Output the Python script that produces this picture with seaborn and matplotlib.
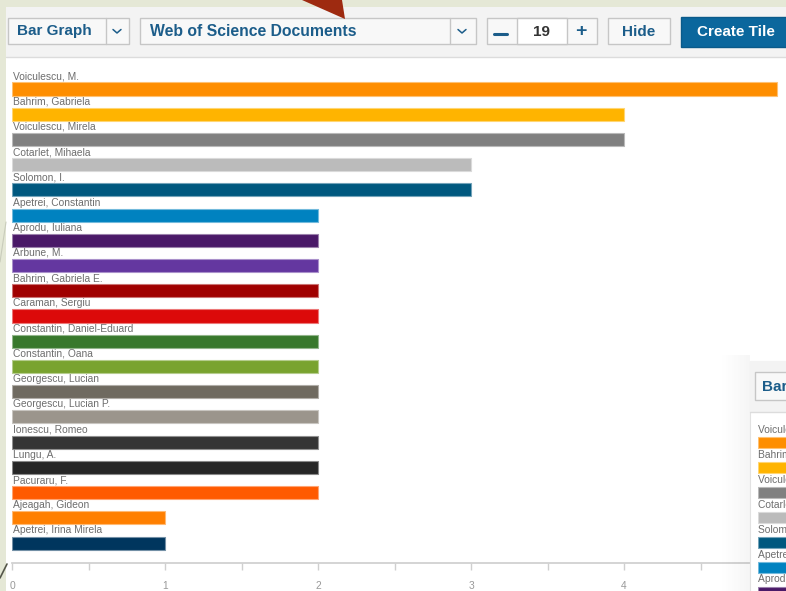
import matplotlib
matplotlib.use("Agg")
import matplotlib.pyplot as plt
import matplotlib.colors as mcolors
from matplotlib.patches import Rectangle, Polygon
import seaborn as sns
import pandas as pd

# data
authors = [
    "Voiculescu, M.", "Bahrim, Gabriela", "Voiculescu, Mirela", "Cotarlet, Mihaela",
    "Solomon, I.", "Apetrei, Constantin", "Aprodu, Iuliana", "Arbune, M.",
    "Bahrim, Gabriela E.", "Caraman, Sergiu", "Constantin, Daniel-Eduard",
    "Constantin, Oana", "Georgescu, Lucian", "Georgescu, Lucian P.", "Ionescu, Romeo",
    "Lungu, A.", "Pacuraru, F.", "Ajeagah, Gideon", "Apetrei, Irina Mirela",
]
documents = [5, 4, 4, 3, 3, 2, 2, 2, 2, 2, 2, 2, 2, 2, 2, 2, 2, 1, 1]
bar_colors = [
    "#fe8e00", "#ffb400", "#808080", "#bbbbbb", "#00587f", "#0082c0", "#4a1968",
    "#6437a0", "#a00000", "#dc0a0a", "#38782c", "#79a32f", "#6f6a60", "#9b958c",
    "#353535", "#262626", "#ff5a00", "#ff7f00", "#00365e",
]
x_ticks = [0, 1, 2, 3, 4, 5]
x_tick_labels = ["0", "1", "2", "3", "4", ""]  # the "5" sits under the thumbnail panel
n_shown = 19

df = pd.DataFrame({"author": authors, "documents": documents})

sns.set_theme(style="white")
plt.rcParams["font.family"] = ["Liberation Sans", "DejaVu Sans"]

W, H = 786, 591
fig = plt.figure(figsize=(W / 100, H / 100), dpi=100)
fig.patch.set_facecolor("#e5e8d6")


def box(px0, py0, px1, py1):
    """pixel box -> figure fraction rect"""
    return [px0 / W, 1 - py1 / H, (px1 - px0) / W, (py1 - py0) / H]


def lighten(c, amt=0.45):
    r, g, b = mcolors.to_rgb(c)
    return (r + (1 - r) * amt, g + (1 - g) * amt, b + (1 - b) * amt)


# --- page / toolbar background in pixel coords ---
bg = fig.add_axes([0, 0, 1, 1], zorder=0)
bg.set_xlim(0, W)
bg.set_ylim(H, 0)
bg.axis("off")
bg.plot([0, 7], [578, 564], color="#55574a", lw=1.2)
bg.plot([0, 6], [262, 222], color="#c9ccbb", lw=0.8)
bg.add_patch(Rectangle((6, 7), W, 50, facecolor="#f3f3f3", edgecolor="none"))
bg.add_patch(Rectangle((6, 57), W, H, facecolor="white", edgecolor="none"))
bg.plot([6, W], [57, 57], color="#dcdcdc", lw=1)

btn_edge = "#c6c6c6"
txt_blue = "#1c5d8a"
bg.add_patch(Rectangle((8, 18), 121, 26, facecolor="#f8f8f8", edgecolor=btn_edge, lw=1))
bg.plot([106, 106], [18, 44], color=btn_edge, lw=1)
bg.text(17, 31.5, "Bar Graph", fontsize=11, fontweight="bold", color=txt_blue, va="center")
bg.plot([113, 117, 121], [29.5, 33, 29.5], color=txt_blue, lw=1.1)

bg.add_patch(Rectangle((140, 18), 336, 26, facecolor="#f8f8f8", edgecolor=btn_edge, lw=1))
bg.plot([450, 450], [18, 44], color=btn_edge, lw=1)
bg.text(150, 31.5, "Web of Science Documents", fontsize=11.3, fontweight="bold",
        color=txt_blue, va="center")
bg.plot([458, 462, 466], [29.5, 33, 29.5], color=txt_blue, lw=1.1)
bg.add_patch(Polygon([(302, 0), (342, 0), (345, 19)], closed=True,
                     facecolor="#9e2a10", edgecolor="none"))

bg.add_patch(Rectangle((487, 18), 110, 26, facecolor="#f8f8f8", edgecolor=btn_edge, lw=1))
bg.add_patch(Rectangle((517, 18), 50, 26, facecolor="white", edgecolor=btn_edge, lw=1))
bg.plot([494, 507], [34, 34], color=txt_blue, lw=2.2)
bg.text(542, 31.5, str(n_shown), fontsize=11, fontweight="bold", color="#333333",
        va="center", ha="center")
bg.text(581, 31.5, "+", fontsize=14, fontweight="bold", color=txt_blue,
        va="center", ha="center")

bg.add_patch(Rectangle((608, 18), 62, 26, facecolor="#f8f8f8", edgecolor=btn_edge, lw=1))
bg.text(639, 31.5, "Hide", fontsize=11, fontweight="bold", color=txt_blue,
        va="center", ha="center")

bg.add_patch(Rectangle((681, 17), 120, 30, facecolor="#0b679d", edgecolor="#0a5a8a", lw=1))
bg.text(697, 32, "Create Tile", fontsize=11, fontweight="bold", color="white", va="center")

# --- main bar chart ---
ax = fig.add_axes(box(12, 62, 12 + 774, 563), zorder=1)
ax.set_facecolor("none")
sns.barplot(data=df, x="documents", y="author", hue="author", palette=bar_colors,
            orient="h", width=0.52, saturation=1, legend=False, ax=ax)
for patch, c in zip(ax.patches, bar_colors):
    patch.set_edgecolor(lighten(c))
    patch.set_linewidth(0.8)
ax.set_yticks([])
ax.set_xlabel("")
ax.set_ylabel("")
for i, name in enumerate(authors):
    ax.text(0.005, i - 0.38, name, fontsize=7.4, color="#6e6e6e", va="baseline")
for side in ["top", "right", "left"]:
    ax.spines[side].set_visible(False)
ax.spines["bottom"].set_color("#cfcfcf")
ax.set_xticks(x_ticks)
ax.set_xticklabels(x_tick_labels)
ax.set_xticks([v + 0.5 for v in x_ticks[:-1]], minor=True)
ax.tick_params(axis="x", which="both", direction="out", length=5, width=1,
               colors="#cfcfcf", labelcolor="#999999", labelsize=7.4, pad=8,
               bottom=True)
ax.set_xlim(0, 774 / 153)
ax.set_ylim(len(authors) - 1 + 0.79, -1.07)

# --- overlapping thumbnail panel at bottom right ---
top = fig.add_axes([0, 0, 1, 1], zorder=3)
top.set_facecolor("none")
top.set_xlim(0, W)
top.set_ylim(H, 0)
top.axis("off")
for k in range(14):
    top.add_patch(Rectangle((750 - 2 * (k + 1), 355), 2, H, facecolor="#000000",
                            alpha=0.036 * (14 - k) / 14, edgecolor="none"))
top.add_patch(Rectangle((750, 361), 40, H, facecolor="white", edgecolor="#e2e2e2", lw=0.8))
top.add_patch(Rectangle((750, 361), 40, 51, facecolor="#f3f3f3", edgecolor="none"))
top.plot([750, W], [412, 412], color="#dcdcdc", lw=1)
top.add_patch(Rectangle((755, 372), 60, 28, facecolor="#f8f8f8", edgecolor=btn_edge, lw=1))
top.text(762, 386.5, "Bar Graph", fontsize=11, fontweight="bold", color=txt_blue, va="center")

ax2 = fig.add_axes(box(758, 412, 758 + 700, 591), zorder=4)
ax2.set_facecolor("none")
sns.barplot(data=df, x="documents", y="author", hue="author", palette=bar_colors,
            orient="h", width=0.44, saturation=1, legend=False, ax=ax2)
for patch, c in zip(ax2.patches, bar_colors):
    patch.set_edgecolor(lighten(c))
    patch.set_linewidth(0.8)
ax2.set_xlim(0, 700 / 120)
ax2.set_ylim((591 - 442.5) / 25, -(442.5 - 412) / 25)
for i, name in enumerate(authors):
    ax2.text(0.0, i - 0.4, name, fontsize=7.4, color="#6e6e6e", va="baseline")
ax2.axis("off")

fig.savefig("out.png", dpi=100)
